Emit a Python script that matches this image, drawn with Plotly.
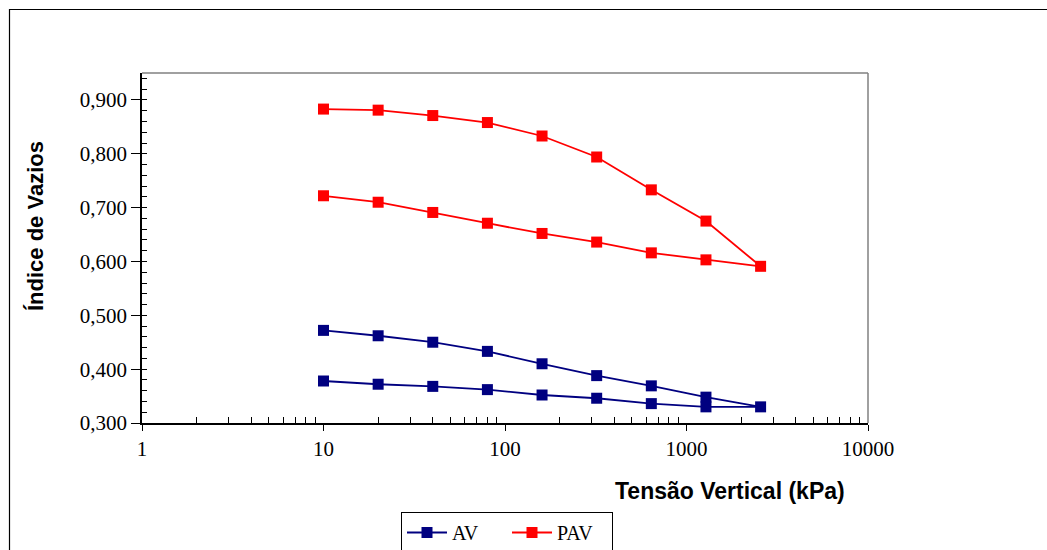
import plotly.graph_objects as go

# ---- data ----
stress_load = [10, 20, 40, 80, 160, 320, 640, 1280, 2560]
stress_unload = [1280, 640, 320, 160, 80, 40, 20, 10]

av_load = [0.472, 0.462, 0.450, 0.433, 0.410, 0.388, 0.369, 0.348, 0.330]
av_unload = [0.330, 0.336, 0.346, 0.352, 0.362, 0.368, 0.372, 0.378]

pav_load = [0.883, 0.881, 0.871, 0.858, 0.833, 0.794, 0.733, 0.675, 0.591]
pav_unload = [0.603, 0.616, 0.636, 0.652, 0.671, 0.691, 0.710, 0.722]

x_tickvals = [1, 10, 100, 1000, 10000]
x_ticktext = ["1", "10", "100", "1000", "10000"]
y_tickvals = [0.3, 0.4, 0.5, 0.6, 0.7, 0.8, 0.9]
y_ticktext = ["0,300", "0,400", "0,500", "0,600", "0,700", "0,800", "0,900"]

# minor tick positions on the log axis (2..9 within each decade)
x_minor = [m * d for d in x_tickvals[:-1] for m in range(2, 10)]

W, H = 1047, 550
L, R, T, B = 142, 868, 73, 423

def px(xp):
    return (xp - L) / (R - L)

def py(yp):
    return (B - yp) / (B - T)

SERIF = "Liberation Serif"

fig = go.Figure()
fig.add_trace(go.Scatter(
    x=stress_load + stress_unload, y=av_load + av_unload, name="AV",
    mode="lines+markers",
    line=dict(color="#000080", width=1.8),
    marker=dict(symbol="square", size=11, color="#000080"),
))
fig.add_trace(go.Scatter(
    x=stress_load + stress_unload, y=pav_load + pav_unload, name="PAV",
    mode="lines+markers",
    line=dict(color="#FF0000", width=1.8),
    marker=dict(symbol="square", size=11, color="#FF0000"),
))

fig.update_xaxes(
    type="log", range=[0, 4],
    tickmode="array", tickvals=x_tickvals, ticktext=x_ticktext,
    ticks="outside", ticklen=6, tickcolor="black", tickwidth=1,
    minor=dict(tickmode="array", tickvals=x_minor, ticks="inside", ticklen=6,
               tickcolor="black", tickwidth=1, showgrid=False),
    showline=True, linecolor="black", linewidth=1.5,
    showgrid=False, zeroline=False,
    tickfont=dict(family=SERIF, size=21, color="black"),
)
fig.update_yaxes(
    range=[0.3, 0.95],
    tickmode="array", tickvals=y_tickvals, ticktext=y_ticktext,
    ticks="outside", ticklen=9, tickcolor="black", tickwidth=1,
    minor=dict(dtick=0.02, tick0=0.3, ticks="inside", ticklen=5, tickcolor="black",
               tickwidth=1, showgrid=False),
    showline=True, linecolor="black", linewidth=1.5,
    showgrid=False, zeroline=False,
    tickfont=dict(family=SERIF, size=21, color="black"),
)

shapes = [
    dict(type="line", xref="paper", yref="paper", x0=0, x1=1, y0=1, y1=1,
         line=dict(color="#808080", width=1.5)),
    dict(type="line", xref="paper", yref="paper", x0=1, x1=1, y0=0, y1=1,
         line=dict(color="#808080", width=1.5)),
    dict(type="line", xref="paper", yref="paper", x0=px(9), x1=px(1047), y0=py(9.5), y1=py(9.5),
         line=dict(color="black", width=1.2)),
    dict(type="line", xref="paper", yref="paper", x0=px(9.5), x1=px(9.5), y0=py(9), y1=py(551),
         line=dict(color="black", width=1.2)),
]

annotations = [
    dict(text="<b>Tensão Vertical (kPa)</b>", xref="paper", yref="paper",
         x=px(730), y=py(491), xanchor="center", yanchor="middle", showarrow=False,
         font=dict(family="Liberation Sans", size=23, color="black")),
    dict(text="<b>Índice de Vazios</b>", xref="paper", yref="paper",
         x=px(35), y=py(226), xanchor="center", yanchor="middle", showarrow=False,
         textangle=-90,
         font=dict(family="Liberation Sans", size=22, color="black")),
]

fig.update_layout(
    width=W, height=H,
    margin=dict(l=L, r=W - R, t=T, b=H - B, autoexpand=False),
    paper_bgcolor="white", plot_bgcolor="white",
    font=dict(family=SERIF, size=20, color="black"),
    shapes=shapes, annotations=annotations,
    showlegend=True,
    legend=dict(
        orientation="h", x=px(401), y=py(512), xanchor="left", yanchor="top",
        bordercolor="black", borderwidth=1, bgcolor="white",
        font=dict(family=SERIF, size=20, color="black"),
        itemwidth=40, entrywidth=50, tracegroupgap=0,
    ),
)

fig.write_html("out.html")
